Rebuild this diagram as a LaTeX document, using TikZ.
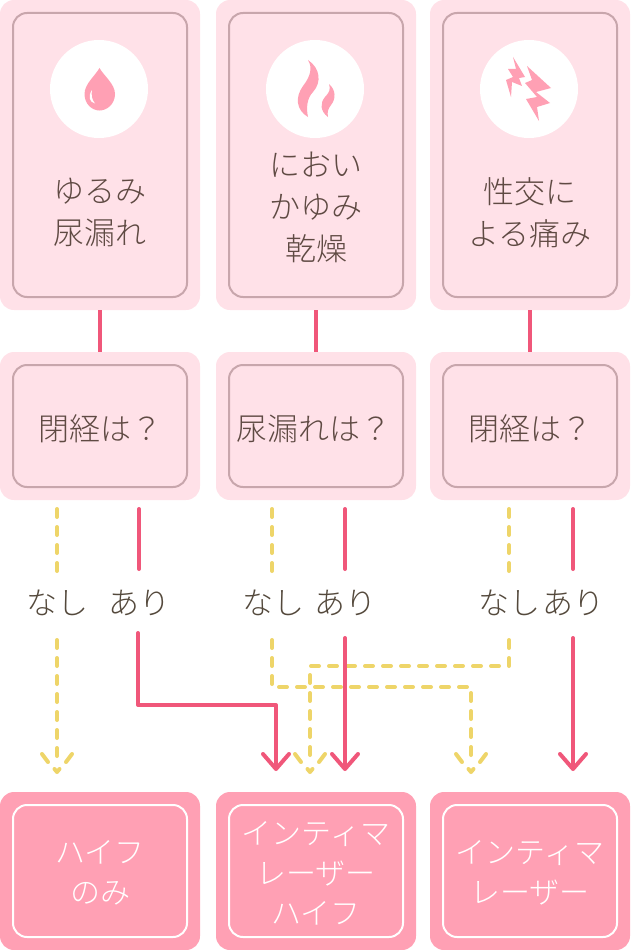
\documentclass[tikz,border=0pt]{standalone}
\usepackage{fontspec}
\newfontfamily\jp{Noto Sans CJK JP}[UprightFont=* Light]
\definecolor{pale}{HTML}{FFE1E8}
\definecolor{rim}{HTML}{C8A6AC}
\definecolor{deep}{HTML}{FFA0B4}
\definecolor{ink}{HTML}{5F4A43}
\definecolor{olive}{HTML}{54493C}
\definecolor{red}{HTML}{F0577A}
\definecolor{yel}{HTML}{EED569}
\tikzset{x=1pt,y=-1pt,
 outer/.style={fill=pale,rounded corners=14pt},
 inner/.style={draw=rim,line width=2pt,rounded corners=14pt},
 outerb/.style={fill=deep,rounded corners=14pt},
 innerb/.style={draw=white,line width=2pt,rounded corners=14pt},
 lab/.style={text=ink,font=\jp\fontsize{31}{42}\selectfont,align=center,inner sep=0pt},
 ans/.style={text=olive,font=\jp\fontsize{31}{42}\selectfont,align=center,inner sep=0pt},
 labb/.style={text=white,font=\jp\fontsize{30}{40}\selectfont,align=center,inner sep=0pt},
 sol/.style={draw=red,line width=4pt,line cap=round,line join=round},
 das/.style={draw=yel,line width=4pt,dash pattern=on 8pt off 10pt,line cap=round},
 ysol/.style={draw=yel,line width=4pt,line cap=round,line join=round},
 ico/.style={fill=deep,draw=none}}
\newcommand{\card}[6]{%
 \fill[#5] (#1,#2) rectangle (#3,#4);
 \draw[#6] (#1+13,#2+13) rectangle (#3-13,#4-13);}
\begin{document}
\begin{tikzpicture}
\useasboundingbox (0,0) rectangle (630,950);
\card{0}{0}{200}{310}{outer}{inner}
\card{216}{0}{416}{310}{outer}{inner}
\card{430}{0}{630}{310}{outer}{inner}
\card{0}{352}{200}{500}{outer}{inner}
\card{216}{352}{416}{500}{outer}{inner}
\card{430}{352}{630}{500}{outer}{inner}
\card{0}{792}{200}{950}{outerb}{innerb}
\card{216}{792}{416}{950}{outerb}{innerb}
\card{430}{792}{630}{950}{outerb}{innerb}
\fill[white] (99,89) circle (49);
\fill[white] (315,89) circle (49);
\fill[white] (529,89) circle (49);
\fill[ico] (99.5,68) .. controls (104,76) and (115,84) .. (115,94) .. controls (115,104) and (107,110.5) .. (99.5,110.5) .. controls (92,110.5) and (84.5,104) .. (84.5,94) .. controls (84.5,84) and (95,76) .. (99.5,68) -- cycle;
\fill[white] (92,90) .. controls (88,96) and (89,102) .. (95,103.5) .. controls (92,100) and (91,95) .. (92,90) -- cycle;
\fill[ico] (308,60) .. controls (320,68) and (322,82) .. (313,92) .. controls (307,98) and (306,108) .. (308,117) .. controls (296,110) and (295,97) .. (303,86) .. controls (310,77) and (313,68) .. (308,60) -- cycle;
\fill[ico] (329,84) .. controls (336,90) and (336,99) .. (331,105) .. controls (328,109) and (327,112) .. (328,117) .. controls (320,111) and (320,103) .. (325,97) .. controls (329,93) and (331,89) .. (329,84) -- cycle;
\fill[ico] (513,57) -- (525,77) -- (519,78) -- (522,86) -- (512,82) -- (511,97) -- (506,80) -- (513,77) -- (508,69) -- (516,69) -- cycle;
\fill[ico] (527,66) -- (551,88) -- (536,92) -- (550,103) -- (537,107) -- (539,121) -- (526,99) -- (537,97) -- (525,83) -- (532,80) -- cycle;
\node[lab] (a) at (100,212.5) {ゆるみ\\尿漏れ};
\node[lab] (b) at (316,207.5) {におい\\かゆみ\\乾燥};
\node[lab] (c) at (530,212.5) {性交に\\よる痛み};
\node[lab] (d) at (100,429) {閉経は？};
\node[lab] (e) at (314,429) {尿漏れは？};
\node[lab] (f) at (530,429) {閉経は？};
\node[ans] (n1) at (58,603) {なし};
\node[ans] (a1) at (139,603) {あり};
\node[ans] (n2) at (273,603) {なし};
\node[ans] (a2) at (345,603) {あり};
\node[ans] (n3) at (509,603) {なし};
\node[ans] (a3) at (573,603) {あり};
\node[labb] (r1) at (100,873) {ハイフ\\のみ};
\node[labb] (r2) at (316,873) {インティマ\\レーザー\\ハイフ};
\node[labb] (r3) at (530,873) {インティマ\\レーザー};
\coordinate (t1) at (100,310); \coordinate (u1) at (100,352);
\coordinate (t2) at (316,310); \coordinate (u2) at (316,352);
\coordinate (t3) at (530,310); \coordinate (u3) at (530,352);
\draw[red,line width=4pt] (t1)--(u1); \draw[red,line width=4pt] (t2)--(u2); \draw[red,line width=4pt] (t3)--(u3);
% dashed
\draw[das] (57,509) -- (57,572);
\draw[das] (272,509) -- (272,572);
\draw[das] (509,509) -- (509,572);
\draw[das] (57,640) -- (57,764);
\draw[das] (272,640) -- (272,687) -- (471,687) -- (471,764);
\draw[das] (509,640) -- (509,666) -- (310,666) -- (310,764);
\foreach \x in {57,310,471}{
 \draw[ysol] (\x-15,754) -- (\x-9,762);
 \draw[ysol] (\x+15,754) -- (\x+9,762);
 \draw[ysol] (\x-2.5,769) -- (\x,772) -- (\x+2.5,769);}
% solid
\draw[sol] (139,509) -- (139,569);
\draw[sol] (345,509) -- (345,569);
\draw[sol] (573,509) -- (573,569);
\draw[sol] (138,633) -- (138,705) -- (276,705) -- (276,768);
\draw[sol] (345,638) -- (345,768);
\draw[sol] (573,638) -- (573,768);
\foreach \x in {276,345,573}{
 \draw[sol] (\x-13,754) -- (\x,769) -- (\x+13,754);}
\end{tikzpicture}
\end{document}
